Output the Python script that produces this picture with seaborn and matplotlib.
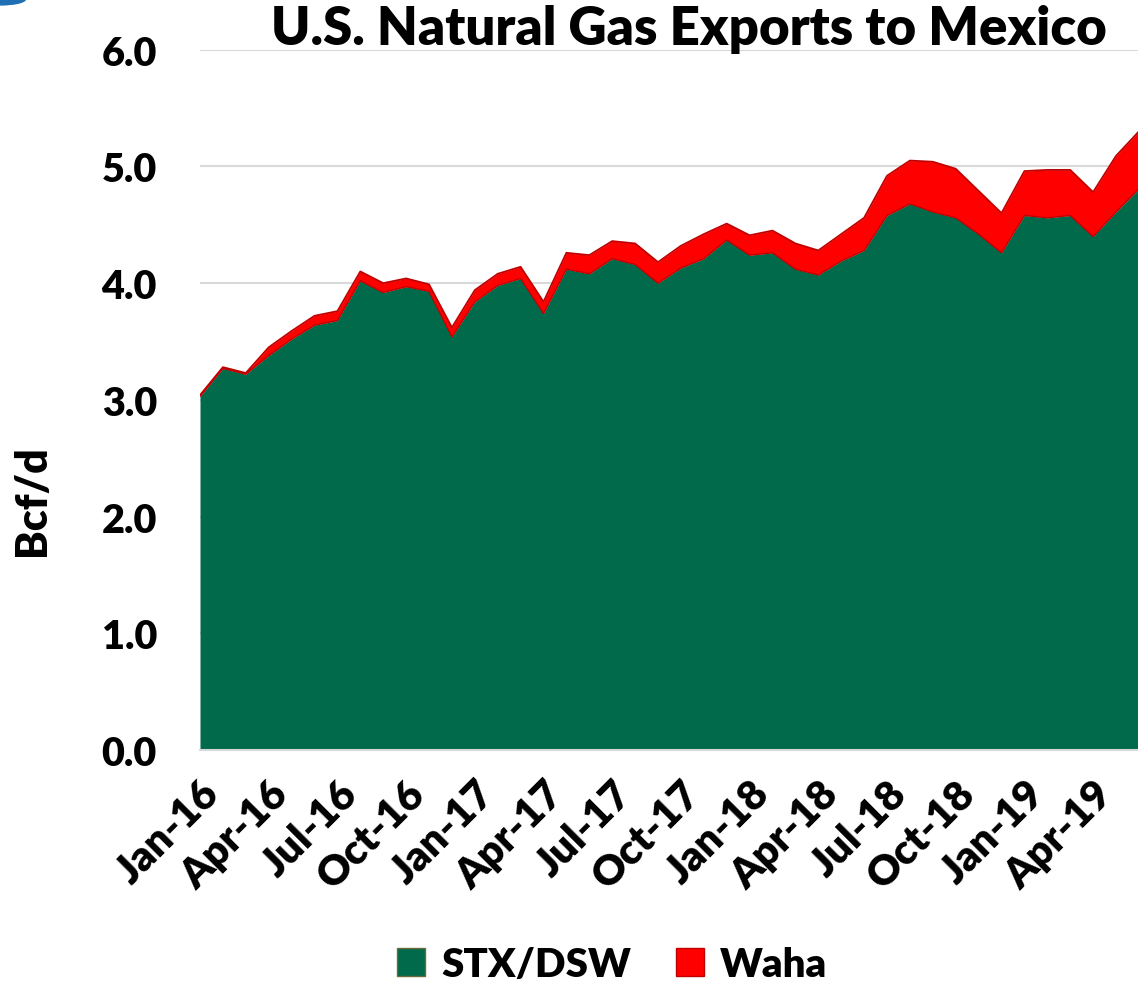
import numpy as np
import pandas as pd
import matplotlib
matplotlib.use("Agg")
import matplotlib.pyplot as plt
from matplotlib.patches import Patch, Ellipse
import seaborn as sns

# ---- data (Bcf/d), Jan-16 .. Jun-19 ----
months = pd.date_range("2016-01-01", periods=42, freq="MS")
stx_dsw = [3.03, 3.27, 3.22, 3.38, 3.52, 3.64, 3.68, 4.02, 3.92, 3.97, 3.93, 3.54,
           3.84, 3.98, 4.04, 3.74, 4.12, 4.08, 4.21, 4.16, 4.00, 4.13, 4.21, 4.37,
           4.24, 4.26, 4.12, 4.07, 4.19, 4.28, 4.58, 4.68, 4.61, 4.56, 4.42, 4.26,
           4.58, 4.56, 4.58, 4.40, 4.61, 4.81]
waha = [0.01, 0.01, 0.01, 0.07, 0.07, 0.08, 0.08, 0.08, 0.08, 0.07, 0.06, 0.08,
        0.10, 0.10, 0.10, 0.10, 0.14, 0.16, 0.15, 0.18, 0.18, 0.19, 0.21, 0.14,
        0.17, 0.19, 0.22, 0.21, 0.23, 0.28, 0.34, 0.37, 0.43, 0.42, 0.37, 0.34,
        0.38, 0.41, 0.39, 0.38, 0.48, 0.49]
tick_labels = ["Jan-16", "Apr-16", "Jul-16", "Oct-16", "Jan-17", "Apr-17", "Jul-17",
               "Oct-17", "Jan-18", "Apr-18", "Jul-18", "Oct-18", "Jan-19", "Apr-19"]
y_ticks = [0.0, 1.0, 2.0, 3.0, 4.0, 5.0, 6.0]
series_names = ["STX/DSW", "Waha"]
title = "U.S. Natural Gas Exports to Mexico"

GREEN = "#006A4A"
RED = "#FF0000"
DARKRED = "#C00000"
GRID = "#D9D9D9"
W = "heavy"

sns.set_style("white")
plt.rcParams["font.family"] = ["Lato", "DejaVu Sans"]
plt.rcParams["font.weight"] = W
plt.rcParams["text.color"] = "black"
plt.rcParams["xtick.color"] = GRID
plt.rcParams["xtick.labelcolor"] = "black"
plt.rcParams["ytick.labelcolor"] = "black"
plt.rcParams["axes.labelcolor"] = "black"

df = pd.DataFrame({"month": months, "STX/DSW": stx_dsw, "Waha": waha})
df["idx"] = np.arange(len(df))
df["total"] = df["STX/DSW"] + df["Waha"]

fig = plt.figure(figsize=(11.38, 9.87), dpi=100)
ax = fig.add_axes([200 / 1138, 1 - 751 / 987, 938 / 1138, (751 - 50.7) / 987])

ax.fill_between(df["idx"], 0, df["STX/DSW"], color=GREEN, lw=0, zorder=2)
ax.fill_between(df["idx"], df["STX/DSW"], df["total"], color=RED, lw=0, zorder=2)
sns.lineplot(data=df, x="idx", y="total", color=DARKRED, lw=1.3, ax=ax, zorder=3)
sns.lineplot(data=df, x="idx", y="STX/DSW", color=DARKRED, lw=1.0, ax=ax, zorder=3)

ax.set_xlim(0, 40.96)
ax.set_ylim(0, 6.0)
ax.set_yticks(y_ticks)
ax.set_yticklabels([f"{v:.1f}" for v in y_ticks], fontsize=28.5, fontweight=W)
ax.set_xticks(np.arange(0, 42, 3))
ax.set_xticklabels(tick_labels, fontsize=30, fontweight=W, rotation=45,
                   ha="right", va="top", rotation_mode="anchor")
ax.tick_params(axis="y", length=0, pad=31)
ax.tick_params(axis="x", length=10, width=1.5, color=GRID, direction="out", pad=7)
ax.yaxis.grid(True, color=GRID, lw=1.5, zorder=0)
ax.xaxis.grid(False)
ax.set_axisbelow(True)
for s in ["top", "right", "left"]:
    ax.spines[s].set_visible(False)
ax.spines["bottom"].set_color(GRID)
ax.spines["bottom"].set_linewidth(1.5)
ax.spines["bottom"].set_zorder(4)

ax.set_xlabel("")
ax.set_ylabel("Bcf/d", fontsize=31, fontweight=W)
ax.yaxis.set_label_coords(-0.158, 0.358)

fig.text(0.6054, 0.954, title, ha="center", va="baseline", fontsize=38,
         fontweight=W, color="black")

handles = [Patch(facecolor=GREEN, edgecolor="#6B6B3B", label=series_names[0]),
           Patch(facecolor=RED, edgecolor=DARKRED, label=series_names[1])]
fig.legend(handles=handles, loc="center", bbox_to_anchor=(0.538, 0.022), ncol=2,
           frameon=False, prop={"size": 29, "weight": W},
           handlelength=0.7, handleheight=0.7, handletextpad=0.4, columnspacing=1.1)

# small blue logo fragment in the top-left corner
fig.patches.append(Ellipse((0.0, 1.0), 0.045, 0.012, transform=fig.transFigure,
                           color="#1F6FB5", zorder=10))

fig.savefig("out.png", dpi=100)
